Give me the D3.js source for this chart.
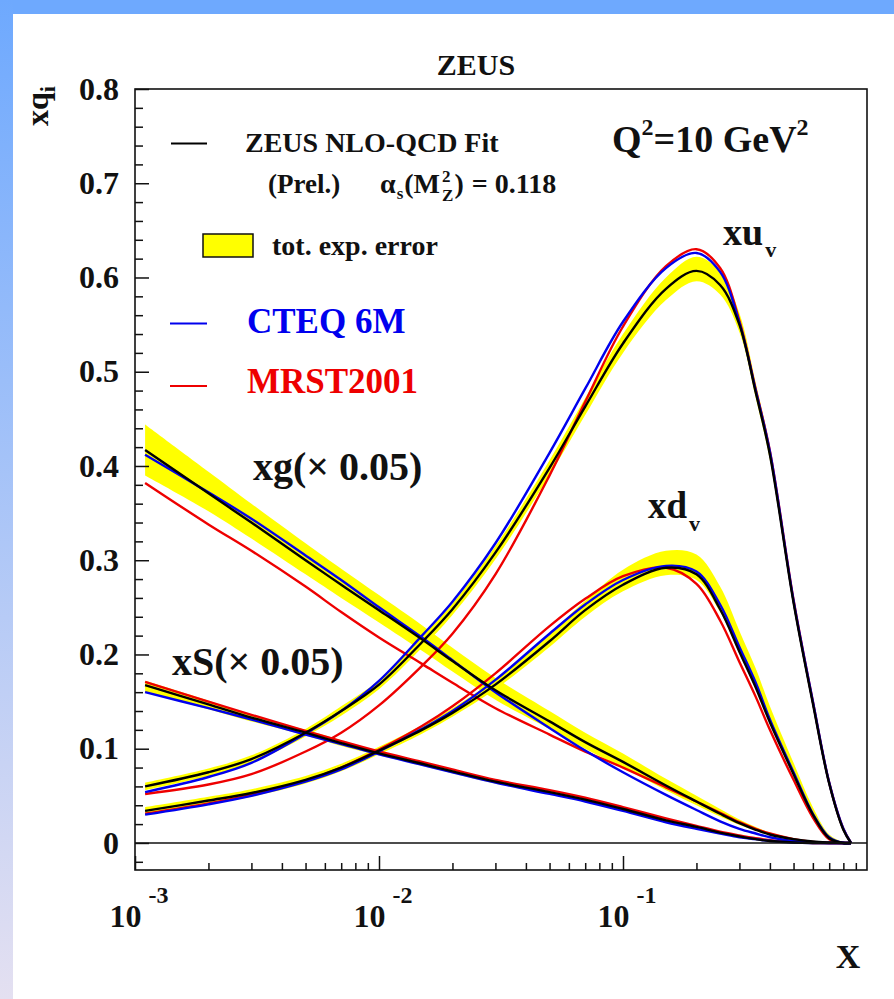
<!DOCTYPE html>
<html>
<head>
<meta charset="utf-8">
<script src="https://cdn.jsdelivr.net/npm/d3@7"></script>
<style>
  html, body { margin: 0; padding: 0; background: #fff; }
  svg text { font-family: "Liberation Serif", "Times New Roman", serif; font-weight: bold; }
</style>
</head>
<body>
<svg id="chart" width="894" height="999"></svg>
<script>
// Parton distributions at Q^2 = 10 GeV^2 (xg and xS scaled by 0.05)
const xGrid = [0.0011, 0.002, 0.003, 0.005, 0.007, 0.01, 0.015, 0.02, 0.03, 0.05, 0.07,
               0.1, 0.15, 0.2, 0.25, 0.3, 0.35, 0.4, 0.5, 0.6, 0.7, 0.8, 0.86];

// xu_v
const xuvZeus  = [0.060, 0.075, 0.089, 0.117, 0.140, 0.168, 0.213, 0.248, 0.308, 0.398, 0.463, 0.530, 0.588, 0.607, 0.592, 0.550, 0.478, 0.412, 0.255, 0.148, 0.063, 0.014, 0.0];
const xuvCteq  = [0.054, 0.070, 0.085, 0.116, 0.140, 0.172, 0.220, 0.256, 0.318, 0.414, 0.482, 0.553, 0.610, 0.626, 0.606, 0.552, 0.480, 0.415, 0.257, 0.150, 0.064, 0.015, 0.0];
const xuvMrst  = [0.052, 0.062, 0.073, 0.097, 0.117, 0.146, 0.188, 0.222, 0.285, 0.390, 0.468, 0.548, 0.612, 0.630, 0.610, 0.554, 0.481, 0.416, 0.258, 0.150, 0.064, 0.015, 0.0];
const xuvErrLo = [0.056, 0.071, 0.085, 0.113, 0.135, 0.163, 0.207, 0.242, 0.301, 0.390, 0.454, 0.520, 0.576, 0.596, 0.582, 0.542, 0.472, 0.406, 0.250, 0.144, 0.060, 0.012, 0.0];
const xuvErrHi = [0.064, 0.079, 0.093, 0.121, 0.145, 0.173, 0.219, 0.254, 0.315, 0.406, 0.472, 0.540, 0.600, 0.622, 0.606, 0.562, 0.488, 0.420, 0.262, 0.153, 0.067, 0.016, 0.0];

// xd_v
const xdvZeus  = [0.034, 0.045, 0.053, 0.067, 0.080, 0.098, 0.120, 0.138, 0.168, 0.214, 0.247, 0.274, 0.292, 0.285, 0.248, 0.203, 0.165, 0.128, 0.073, 0.030, 0.005, 0.0, 0.0];
const xdvCteq  = [0.030, 0.041, 0.050, 0.065, 0.078, 0.097, 0.121, 0.140, 0.173, 0.222, 0.253, 0.279, 0.294, 0.288, 0.253, 0.208, 0.170, 0.131, 0.075, 0.031, 0.006, 0.0, 0.0];
const xdvMrst  = [0.031, 0.042, 0.051, 0.066, 0.080, 0.099, 0.124, 0.145, 0.180, 0.230, 0.259, 0.283, 0.292, 0.275, 0.236, 0.192, 0.155, 0.120, 0.067, 0.027, 0.004, 0.0, 0.0];
const xdvErrLo = [0.030, 0.041, 0.049, 0.063, 0.076, 0.094, 0.116, 0.134, 0.163, 0.208, 0.240, 0.267, 0.284, 0.279, 0.245, 0.201, 0.163, 0.127, 0.072, 0.029, 0.004, 0.0, 0.0];
const xdvErrHi = [0.038, 0.049, 0.057, 0.071, 0.084, 0.102, 0.125, 0.143, 0.174, 0.222, 0.257, 0.290, 0.310, 0.306, 0.272, 0.225, 0.185, 0.145, 0.085, 0.038, 0.009, 0.001, 0.0];

// xg (x 0.05)
const xgZeus  = [0.417, 0.371, 0.340, 0.300, 0.274, 0.247, 0.216, 0.193, 0.162, 0.129, 0.107, 0.086, 0.061, 0.044, 0.031, 0.021, 0.014, 0.009, 0.004, 0.0015, 0.0005, 0.0, 0.0];
const xgCteq  = [0.412, 0.372, 0.344, 0.305, 0.279, 0.250, 0.218, 0.194, 0.160, 0.122, 0.098, 0.075, 0.051, 0.035, 0.023, 0.015, 0.010, 0.006, 0.002, 0.0005, 0.0, 0.0, 0.0];
const xgMrst  = [0.382, 0.338, 0.310, 0.272, 0.245, 0.218, 0.190, 0.170, 0.143, 0.115, 0.097, 0.080, 0.059, 0.044, 0.032, 0.022, 0.015, 0.010, 0.004, 0.001, 0.0, 0.0, 0.0];
const xgErrLo = [0.390, 0.352, 0.323, 0.285, 0.260, 0.234, 0.204, 0.182, 0.152, 0.121, 0.100, 0.080, 0.056, 0.040, 0.028, 0.019, 0.013, 0.008, 0.003, 0.001, 0.0, 0.0, 0.0];
const xgErrHi = [0.444, 0.394, 0.360, 0.318, 0.291, 0.263, 0.231, 0.207, 0.175, 0.140, 0.117, 0.095, 0.068, 0.050, 0.036, 0.025, 0.017, 0.011, 0.005, 0.002, 0.001, 0.0, 0.0];

// xS (x 0.05)
const xsZeus  = [0.1675, 0.147, 0.133, 0.117, 0.106, 0.095, 0.084, 0.076, 0.065, 0.054, 0.046, 0.036, 0.024, 0.017, 0.011, 0.007, 0.004, 0.002, 0.0005, 0.0, 0.0, 0.0, 0.0];
const xsCteq  = [0.160, 0.143, 0.131, 0.115, 0.105, 0.094, 0.083, 0.075, 0.064, 0.052, 0.044, 0.034, 0.022, 0.015, 0.010, 0.006, 0.004, 0.002, 0.0005, 0.0, 0.0, 0.0, 0.0];
const xsMrst  = [0.171, 0.150, 0.136, 0.119, 0.108, 0.097, 0.086, 0.078, 0.067, 0.056, 0.048, 0.038, 0.026, 0.018, 0.012, 0.008, 0.005, 0.003, 0.001, 0.0, 0.0, 0.0, 0.0];
const xsErrLo = [0.160, 0.142, 0.129, 0.114, 0.103, 0.093, 0.082, 0.074, 0.063, 0.052, 0.044, 0.034, 0.023, 0.016, 0.010, 0.006, 0.004, 0.002, 0.0003, 0.0, 0.0, 0.0, 0.0];
const xsErrHi = [0.172, 0.151, 0.136, 0.120, 0.109, 0.097, 0.086, 0.078, 0.067, 0.056, 0.048, 0.038, 0.025, 0.018, 0.012, 0.008, 0.005, 0.003, 0.0008, 0.0, 0.0, 0.0, 0.0];

// Axis ticks
const yMajorTicks = [0, 0.1, 0.2, 0.3, 0.4, 0.5, 0.6, 0.7, 0.8];
const yMajorLabels = ["0", "0.1", "0.2", "0.3", "0.4", "0.5", "0.6", "0.7", "0.8"];
const xDecades = [-3, -2, -1];
const xMinorMult = [2, 3, 4, 5, 6, 7, 8, 9];

const C_BLUE = "#0000ee", C_RED = "#ee0000", C_YELLOW = "#ffff00";

const svg = d3.select("#chart");

// page background: white panel with a blue border strip on top and left
const defs = svg.append("defs");
const grad = defs.append("linearGradient").attr("id", "sideGrad")
  .attr("x1", 0).attr("y1", 0).attr("x2", 0).attr("y2", 1);
grad.append("stop").attr("offset", "0%").attr("stop-color", "#6ea9fe");
grad.append("stop").attr("offset", "100%").attr("stop-color", "#e4e0f1");
svg.append("rect").attr("width", 894).attr("height", 999).attr("fill", "#fff");
svg.append("rect").attr("x", 0).attr("y", 0).attr("width", 894).attr("height", 14).attr("fill", "#6ea9fe");
svg.append("rect").attr("x", 0).attr("y", 0).attr("width", 13).attr("height", 999).attr("fill", "url(#sideGrad)");

// scales
const x = d3.scaleLog().domain([1e-3, 1]).range([135, 867]);
const y = d3.scaleLinear().domain([-0.0287, 0.8]).range([870, 89]);

const smooth = d3.curveCatmullRom.alpha(0.5);
const lineGen = d3.line()
  .x((d, i) => x(xGrid[i]))
  .y(d => y(d))
  .curve(smooth);

const bandGen = (lo, hi) => d3.area()
  .x((d, i) => x(xGrid[i]))
  .y0((d, i) => y(lo[i]))
  .y1((d, i) => y(hi[i]))
  .curve(smooth)(xGrid);

const plot = svg.append("g");

// experimental error bands
[[xgErrLo, xgErrHi], [xsErrLo, xsErrHi], [xuvErrLo, xuvErrHi], [xdvErrLo, xdvErrHi]].forEach(([lo, hi]) => {
  plot.append("path").attr("d", bandGen(lo, hi)).attr("fill", C_YELLOW).attr("stroke", "none");
});

// curves: MRST2001, CTEQ 6M, ZEUS fit
const curveSets = [
  [xgMrst, xsMrst, xuvMrst, xdvMrst, C_RED],
  [xgCteq, xsCteq, xuvCteq, xdvCteq, C_BLUE],
  [xgZeus, xsZeus, xuvZeus, xdvZeus, "#000"]
];
curveSets.forEach(set => {
  const color = set[4];
  set.slice(0, 4).forEach(vals => {
    plot.append("path").attr("d", lineGen(vals))
      .attr("fill", "none").attr("stroke", color).attr("stroke-width", 2.4)
      .attr("stroke-linejoin", "round");
  });
});

// frame and zero line
svg.append("rect").attr("x", 135).attr("y", 89).attr("width", 732).attr("height", 781)
  .attr("fill", "none").attr("stroke", "#111").attr("stroke-width", 1.6);
svg.append("line").attr("x1", 135).attr("x2", 867).attr("y1", y(0)).attr("y2", y(0))
  .attr("stroke", "#111").attr("stroke-width", 1.4);

// y axis
const yMinorTicks = d3.range(-0.02, 0.8, 0.02).filter(v => Math.abs(v * 10 - Math.round(v * 10)) > 1e-6);
const gyMinor = svg.append("g").attr("transform", "translate(135,0)")
  .call(d3.axisLeft(y).tickValues(yMinorTicks).tickSize(-8).tickFormat(""));
gyMinor.select(".domain").remove();
const gy = svg.append("g").attr("transform", "translate(135,0)")
  .call(d3.axisLeft(y).tickValues(yMajorTicks).tickSize(-14).tickPadding(16)
    .tickFormat((d, i) => yMajorLabels[i]));
gy.select(".domain").remove();
gy.selectAll("text").attr("font-size", 32).attr("fill", "#111")
  .style("font-family", "'Liberation Serif', serif").style("font-weight", "bold");

// x axis
const xMinorTicks = [];
xDecades.forEach(e => xMinorMult.forEach(m => xMinorTicks.push(m * Math.pow(10, e))));
const gxMinor = svg.append("g").attr("transform", "translate(0,870)")
  .call(d3.axisBottom(x).tickValues(xMinorTicks).tickSize(-7).tickFormat(""));
gxMinor.select(".domain").remove();
const gx = svg.append("g").attr("transform", "translate(0,870)")
  .call(d3.axisBottom(x).tickValues(xDecades.map(e => Math.pow(10, e))).tickSize(-14).tickFormat(""));
gx.select(".domain").remove();
svg.selectAll(".tick line").attr("stroke", "#111").attr("stroke-width", 1.5);

xDecades.forEach(e => {
  const t = svg.append("text").attr("x", x(Math.pow(10, e)) + 4).attr("y", 927)
    .attr("text-anchor", "middle").attr("font-size", 32).attr("fill", "#111");
  t.append("tspan").text("10");
  t.append("tspan").attr("font-size", 24).attr("dx", 7).attr("dy", -24).text(String(e));
});

// axis titles
svg.append("text").attr("x", 848).attr("y", 968).attr("text-anchor", "middle")
  .attr("font-size", 34).attr("fill", "#111").text("X");
const yt = svg.append("text").attr("transform", "translate(48,86) rotate(-90)")
  .attr("text-anchor", "end").attr("font-size", 32).attr("fill", "#111");
yt.append("tspan").text("xq");
yt.append("tspan").attr("font-size", 22).attr("dy", 7).text("i");

// title
svg.append("text").attr("x", 476).attr("y", 75).attr("text-anchor", "middle")
  .attr("font-size", 30).attr("fill", "#111").text("ZEUS");

// legend
svg.append("line").attr("x1", 171).attr("x2", 207).attr("y1", 143.5).attr("y2", 143.5)
  .attr("stroke", "#000").attr("stroke-width", 2);
svg.append("text").attr("x", 245).attr("y", 152).attr("font-size", 28).attr("fill", "#111")
  .text("ZEUS NLO-QCD Fit");
svg.append("text").attr("x", 268).attr("y", 193).attr("font-size", 27).attr("fill", "#111")
  .text("(Prel.)");

// alpha_s(M_Z^2) = 0.118, laid out piece by piece
let cx = 380;
const piece = (txt, size, baseY, gap) => {
  const t = svg.append("text").attr("x", cx).attr("y", baseY).attr("font-size", size)
    .attr("fill", "#111").text(txt);
  const w = t.node().getComputedTextLength();
  cx += w + gap;
  return w;
};
piece("α", 28, 193, 1);
piece("s", 17, 199, 1);
piece("(M", 28, 193, 2);
{
  const sx = cx;
  const w2 = piece("2", 17, 182, 0);
  cx = sx;
  const wz = piece("Z", 17, 201, 0);
  cx = sx + Math.max(w2, wz) + 1;
}
piece(")", 28, 193, 8);
piece("=", 28, 193, 7);
piece("0.118", 28, 193, 0);

svg.append("rect").attr("x", 203).attr("y", 234).attr("width", 50).attr("height", 23)
  .attr("fill", C_YELLOW).attr("stroke", "#111").attr("stroke-width", 1.5);
svg.append("text").attr("x", 272).attr("y", 255).attr("font-size", 28).attr("fill", "#111")
  .text("tot. exp. error");

svg.append("line").attr("x1", 170).attr("x2", 207).attr("y1", 323.5).attr("y2", 323.5)
  .attr("stroke", C_BLUE).attr("stroke-width", 2);
svg.append("text").attr("x", 247).attr("y", 333).attr("font-size", 35).attr("fill", C_BLUE)
  .text("CTEQ 6M");
svg.append("line").attr("x1", 170).attr("x2", 207).attr("y1", 386).attr("y2", 386)
  .attr("stroke", C_RED).attr("stroke-width", 2);
svg.append("text").attr("x", 247).attr("y", 393).attr("font-size", 35).attr("fill", C_RED)
  .text("MRST2001");

// scale label
const q = svg.append("text").attr("x", 612).attr("y", 152).attr("font-size", 38).attr("fill", "#111");
q.append("tspan").text("Q");
q.append("tspan").attr("font-size", 24).attr("dy", -17).text("2");
q.append("tspan").attr("dy", 17).text("=10 GeV");
q.append("tspan").attr("font-size", 24).attr("dy", -17).text("2");

// distribution labels
const lab = (px, py, main, sub, size, subSize, subDy) => {
  const t = svg.append("text").attr("x", px).attr("y", py).attr("font-size", size).attr("fill", "#111");
  t.append("tspan").text(main);
  if (sub) t.append("tspan").attr("font-size", subSize).attr("dx", 2).attr("dy", subDy).text(sub);
};
lab(723, 245, "xu", "v", 38, 22, 12);
lab(648, 518, "xd", "v", 37, 22, 13);
lab(253, 480, "xg(× 0.05)", null, 40);
lab(172, 675, "xS(× 0.05)", null, 40);
</script>
</body>
</html>
